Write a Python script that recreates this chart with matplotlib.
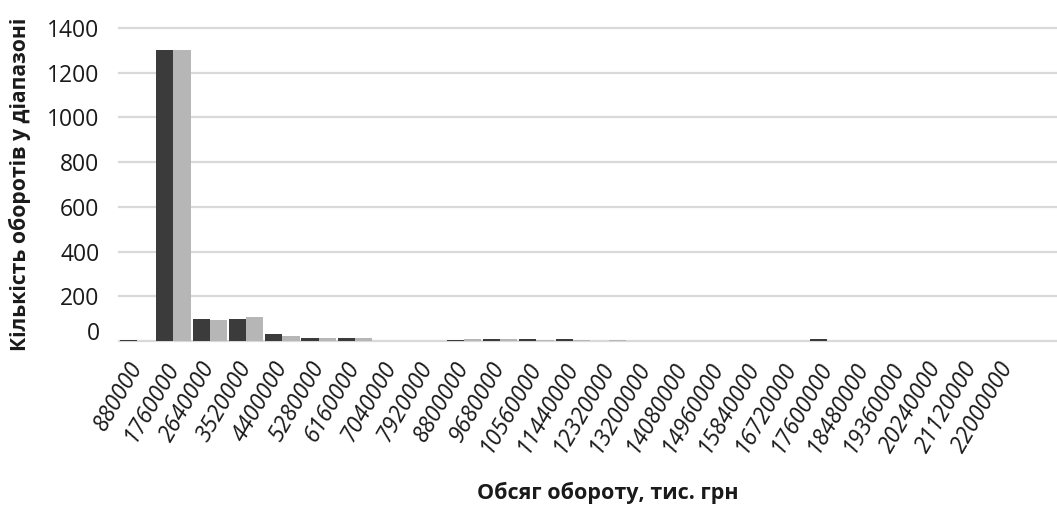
import numpy as np
import matplotlib
matplotlib.use("Agg")
import matplotlib.pyplot as plt
from matplotlib.transforms import ScaledTranslation

plt.rcParams['font.family'] = ['Open Sans', 'DejaVu Sans']

# діапазони обсягу обороту, тис. грн
bins = [880000, 1760000, 2640000, 3520000, 4400000, 5280000, 6160000,
        7040000, 7920000, 8800000, 9680000, 10560000, 11440000, 12320000,
        13200000, 14080000, 14960000, 15840000, 16720000, 17600000,
        18480000, 19360000, 20240000, 21120000, 22000000]
# кількість оборотів у діапазоні (дві серії)
series_dark = [5, 1300, 100, 100, 30, 14, 14, 0, 0, 5, 9, 9, 7,
               0, 0, 0, 0, 0, 0, 7, 0, 0, 0, 0, 0]
series_light = [2, 1300, 95, 108, 23, 13, 13, 0, 0, 9, 9, 5, 4,
                4, 0, 0, 0, 0, 0, 0, 0, 0, 0, 0, 0]
yticks = [0, 200, 400, 600, 800, 1000, 1200, 1400]

W, H = 1057, 508
fig = plt.figure(figsize=(W / 100, H / 100), dpi=100)
left, right, top, bottom = 119, 1057, 28, 341
ax = fig.add_axes([left / W, 1 - bottom / H, (right - left) / W, (bottom - top) / H])

x = np.arange(len(bins))
bw = 0.475
ax.bar(x - bw / 2, series_dark, width=bw, color='#3b3b3b', zorder=3)
ax.bar(x + bw / 2, series_light, width=bw, color='#b6b6b6', zorder=3)

cat_px = 36.3
ax.set_xlim(-0.5, -0.5 + (right - left) / cat_px)
ax.set_ylim(0, 1400)

ax.set_yticks(yticks)
ax.set_yticklabels([str(v) for v in yticks], fontsize=16.5, color='#1a1a1a')
ax.set_xticks(x)
ax.set_xticklabels([str(b) for b in bins], rotation=60, ha='right', va='center',
                   rotation_mode='anchor', fontsize=16.5, style='italic', color='#1a1a1a')
ax.tick_params(axis='both', length=0)
ax.tick_params(axis='y', pad=14)
ax.tick_params(axis='x', pad=16)

# "0" in the reference sits a bit above the baseline
lab0 = ax.yaxis.get_major_ticks()[0].label1
lab0.set_transform(lab0.get_transform() + ScaledTranslation(0, 10 / 100, fig.dpi_scale_trans))

ax.grid(axis='y', color='#d9d9d9', linewidth=1.6, zorder=0)
for ln in ax.get_ygridlines():
    ln.set_clip_on(False)
ax.set_axisbelow(True)
for s in ax.spines.values():
    s.set_visible(False)

ax.set_ylabel('Кількість оборотів у діапазоні', fontsize=15.2, fontweight='bold',
              color='#1a1a1a', va='center')
ax.yaxis.set_label_coords(-(left - 20) / (right - left), (bottom - 184) / (bottom - top))
ax.set_xlabel('Обсяг обороту, тис. грн', fontsize=15.5, fontweight='bold', color='#1a1a1a', va='center')
ax.xaxis.set_label_coords((608 - left) / (right - left), (bottom - 493) / (bottom - top))

fig.savefig('out.png', dpi=100)
